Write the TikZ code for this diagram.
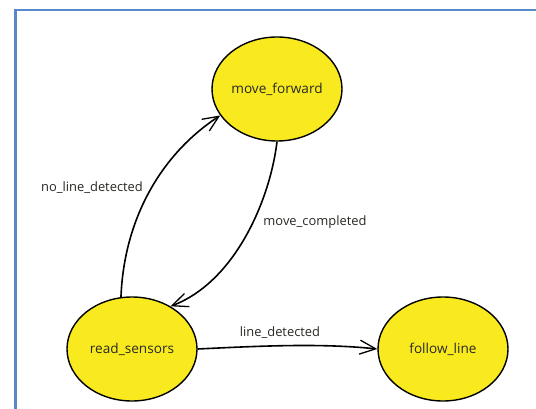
\documentclass[tikz,border=0pt]{standalone}
\usepackage{fontspec}
\setmainfont{Open Sans}
\usetikzlibrary{arrows.meta,shapes.geometric}
\definecolor{stateyellow}{RGB}{249,234,32}
\definecolor{frameblue}{RGB}{86,136,202}
\definecolor{inkgray}{RGB}{40,40,36}
\tikzset{
  state/.style={ellipse, draw=black, line width=1.4pt, fill=stateyellow,
    minimum width=130pt, minimum height=104pt, inner sep=0pt,
    font=\fontsize{13.6}{15}\selectfont, text=inkgray},
  trans/.style={draw=black, line width=1.6pt,
    -{Straight Barb[length=16pt,width=14pt,line width=1.3pt]}},
  translabel/.style={font=\fontsize{12.9}{14}\selectfont, text=inkgray}
}
\begin{document}
\begin{tikzpicture}[x=1pt,y=-1pt]
  \useasboundingbox (0,0) rectangle (536,409);
  \fill[white] (0,0) rectangle (536,409);
  % frame
  \draw[frameblue, line width=2.4pt] (15.5,420) -- (15.5,10) -- (545,10);

  % states
  \node[state] (mf) at (277,89) {move\_forward};
  \node[state] (rs) at (132,349) {read\_sensors};
  \node[state] (fl) at (443,349) {follow\_line};

  % transitions
  \draw[trans] (rs.102) .. controls (124,220) and (160,155) .. (mf.205);
  \draw[trans] (mf.south) .. controls (270,200) and (235,282) .. (rs.48);
  \draw[trans] (rs.east) .. controls (260,346) and (320,343) .. (fl.west);

  % labels
  \node[translabel] (l1) at (92,188) {no\_line\_detected};
  \node[translabel] (l2) at (315,222) {move\_completed};
  \node[translabel] (l3) at (280,333) {line\_detected};
\end{tikzpicture}
\end{document}
